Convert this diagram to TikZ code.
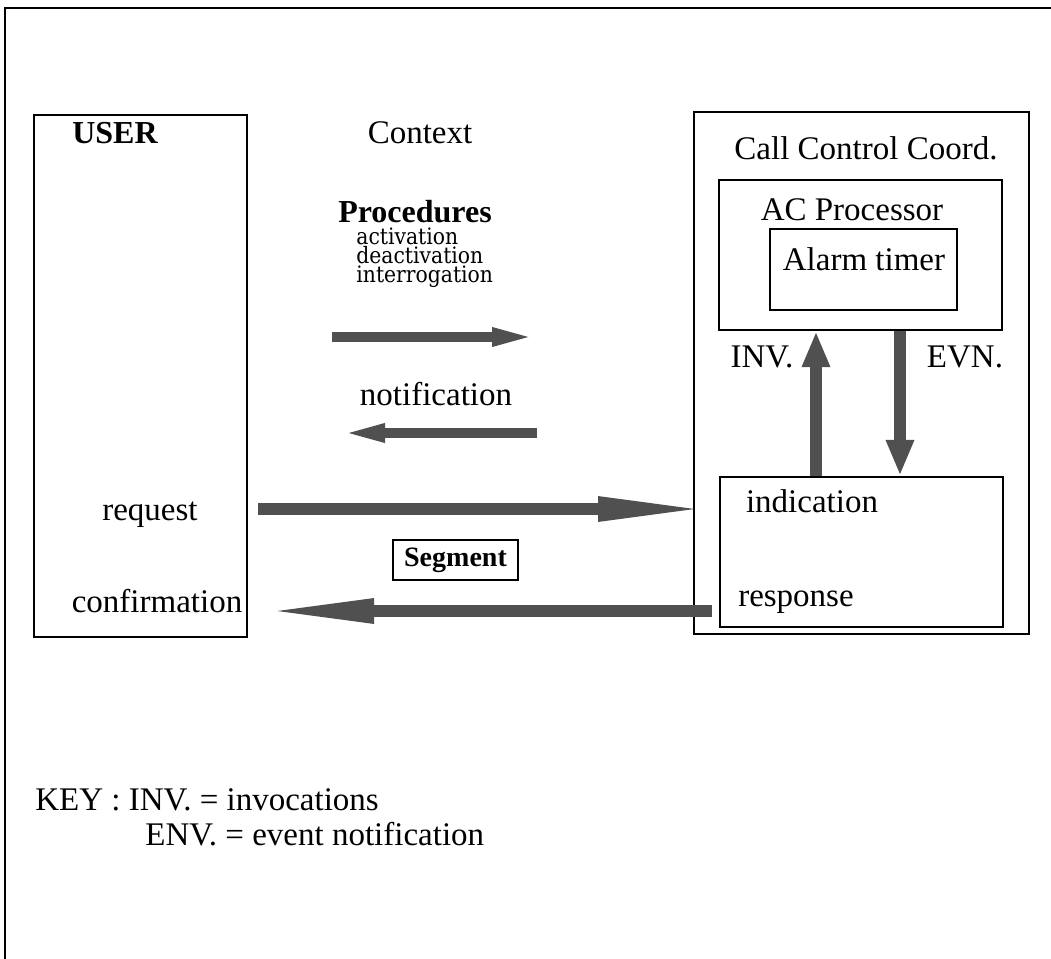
\documentclass[tikz,border=0pt]{standalone}
\usepackage{fontspec}
\setmainfont{Liberation Serif}
\newfontfamily\centfont[FakeStretch=0.9]{DejaVu Serif}
\usetikzlibrary{arrows.meta}
\definecolor{arrowgray}{RGB}{80,80,80}
\begin{document}
\begin{tikzpicture}[x=0.5pt,y=-0.5pt,
  box/.style={draw, line width=1.2pt, inner sep=0pt},
  lbl/.style={font=\fontsize{16.5pt}{18pt}\selectfont, inner sep=0pt, anchor=base},
  blbl/.style={lbl, font=\fontsize{16pt}{18pt}\selectfont\bfseries},
  plbl/.style={font={\fontsize{11.3pt}{9.6pt}\centfont\lineskiplimit=-100pt}, inner sep=0pt, align=left},
  bigarrow/.style={draw=arrowgray, line width=6pt, -{Triangle[length=57pt,width=11pt,fill=arrowgray]}},
  midarrow/.style={draw=arrowgray, line width=5pt, -{Triangle[length=24pt,width=8pt,fill=arrowgray]}},
  varrow/.style={draw=arrowgray, line width=6pt, -{Triangle[length=18pt,width=13pt,fill=arrowgray]}}
]
\useasboundingbox (0,0) rectangle (1051,959);
% outer frame (top and left edges)
\coordinate (fTL) at (5,8);
\coordinate (fTR) at (1051,8);
\coordinate (fBL) at (5,959);
\draw[line width=1pt] (fTR) -- (fTL) -- (fBL);

% boxes
\node[box, minimum width=106.5pt, minimum height=261pt] (user) at (140.5,376) {};
\node[box, minimum width=167.5pt, minimum height=261pt] (ccc) at (861.5,373) {};
\node[box, minimum width=141.5pt, minimum height=75pt] (ac) at (860.5,255) {};
\node[box, minimum width=93.5pt, minimum height=40.5pt] (alarm) at (863.5,269.5) {};
\node[box, minimum width=141.5pt, minimum height=75pt] (ind) at (861.5,552) {};
\node[box, minimum width=62.5pt, minimum height=20pt, font=\fontsize{14pt}{16pt}\selectfont\bfseries] (seg) at (455.5,560) {Segment};

% labels
\node[blbl] (userlbl) at (115,143) {USER};
\node[lbl] (context) at (420,143) {Context};
\node[lbl] (ccclbl) at (866,159) {Call Control Coord.};
\node[lbl] (aclbl) at (852,220) {AC Processor};
\node[lbl] (alarmlbl) at (864,270) {Alarm timer};
\node[lbl] (invlbl) at (762,367) {INV.};
\node[lbl] (evnlbl) at (965,367) {EVN.};
\node[lbl] (indlbl) at (812,512) {indication};
\node[lbl] (resplbl) at (796,606) {response};
\node[blbl] (proc) at (415,222) {Procedures};
\node[plbl, anchor=north west] (procitems) at (356,227) {activation\\deactivation\\interrogation};
\node[lbl] (notif) at (436,405) {notification};
\node[lbl] (req) at (150,520) {request};
\node[lbl] (conf) at (157,612) {confirmation};
\node[lbl, anchor=base west] (key1) at (35,810) {KEY : INV. = invocations};
\node[lbl, anchor=base west] (key2) at (145,845) {ENV. = event notification};

% arrows
\coordinate (procS) at (332,337);
\coordinate (procE) at (540,337);
\draw[midarrow] (procS) -- (procE);
\coordinate (notS) at (537,433);
\coordinate (notE) at (337,433);
\draw[midarrow] (notS) -- (notE);
\coordinate (reqS) at (258,509);
\coordinate (reqE) at (712,509);
\draw[bigarrow] (reqS) -- (reqE);
\coordinate (confS) at (712,611);
\coordinate (confE) at (260,611);
\draw[bigarrow] (confS) -- (confE);
\draw[varrow] (ind.north -| 816,0) -- (ac.south -| 816,0);
\draw[varrow] (ac.south -| 900,0) -- (ind.north -| 900,0);
\end{tikzpicture}
\end{document}
